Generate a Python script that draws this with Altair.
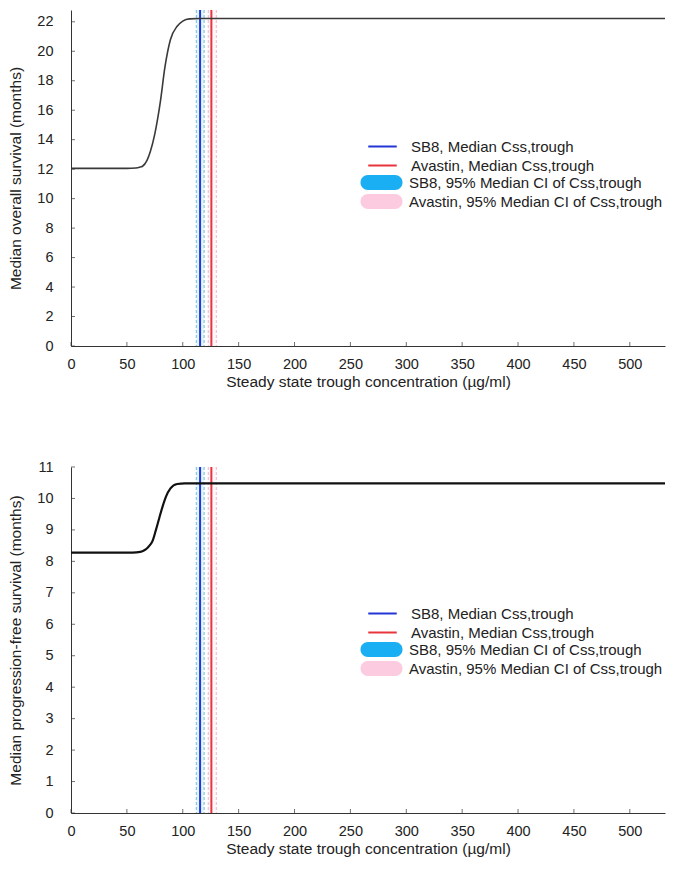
import altair as alt
import pandas as pd

# ---- data ----
os_x = [0, 50, 58, 62, 64, 68, 71, 75, 80, 84, 89, 95, 100, 106, 115, 531.5]
os_y = [12.05, 12.05, 12.08, 12.15, 12.2, 12.6, 13.2, 14.4, 16.6, 18.9, 20.8, 21.7, 22.05, 22.2, 22.22, 22.22]

pfs_x = [0, 55, 62, 66, 69, 73, 76, 79, 82, 85, 89, 95, 102, 531.5]
pfs_y = [8.28, 8.28, 8.3, 8.36, 8.45, 8.65, 9.0, 9.38, 9.75, 10.06, 10.32, 10.46, 10.48, 10.48]

line_names = ["SB8, Median Css,trough", "Avastin, Median Css,trough"]
line_x = [115.5, 125.6]
ci_names = ["SB8, 95% Median CI of Css,trough", "Avastin, 95% Median CI of Css,trough"]
ci_lo = [112.2, 122.9]
ci_hi = [119.1, 130.1]

x_ticks = [0, 50, 100, 150, 200, 250, 300, 350, 400, 450, 500]
os_ticks = [0, 2, 4, 6, 8, 10, 12, 14, 16, 18, 20, 22]
pfs_ticks = [0, 1, 2, 3, 4, 5, 6, 7, 8, 9, 10, 11]

x_title = "Steady state trough concentration (\u00b5g/ml)"

BLUE = "#2336d4"
RED = "#e8343c"
CI_BLUE = "#1aaef2"
CI_PINK = "#fccbdf"
EDGE_BLUE = "#8ccbe8"
EDGE_PINK = "#f6c3d9"
FONT = "Liberation Sans"

W = 594
XMAX = 531.5
line_df = pd.DataFrame({"name": line_names, "x": line_x})
ci_df = pd.DataFrame({"name": ci_names, "lo": ci_lo, "hi": ci_hi})
edge_df = pd.DataFrame({
    "name": [ci_names[0], ci_names[0], ci_names[1], ci_names[1]],
    "x": [ci_lo[0], ci_hi[0], ci_lo[1], ci_hi[1]],
})
xt_df = pd.DataFrame({"t": x_ticks})

PILL = "M-1.8,-1L1.8,-1A1,1 0 0 1 1.8,1L-1.8,1A1,1 0 0 1 -1.8,-1Z"
DASH = "M-1.9,0L1.9,0"
LEG_X = 303


def panel(cx, cy, ytitle, ymax, yticks, h, leg_y, curve_color, curve_width):
    xscale = alt.Scale(domain=[0, XMAX], nice=False, zero=False)
    yscale = alt.Scale(domain=[0, ymax], nice=False)
    xaxis = alt.Axis(values=x_ticks, title=x_title, labelPadding=11, titlePadding=4,
                     labelOverlap=False, labelFlush=False)
    yaxis = alt.Axis(values=yticks, title=ytitle, labelPadding=18, titlePadding=13,
                     labelOverlap=False, labelFlush=False)

    bands = alt.Chart(ci_df).mark_rect(fillOpacity=0.12).encode(
        x=alt.X("lo:Q", scale=xscale, axis=xaxis, title=x_title),
        x2="hi:Q",
        fill=alt.Fill(
            "name:N",
            scale=alt.Scale(domain=ci_names, range=[CI_BLUE, CI_PINK]),
            legend=alt.Legend(
                title=None, orient="none", legendX=LEG_X, legendY=leg_y + 37,
                symbolType=PILL, symbolSize=225, symbolStrokeWidth=0,
                symbolOpacity=1, labelFontSize=15, labelFont=FONT,
                labelColor="#222", labelOffset=20, rowPadding=3,
                padding=0, labelLimit=400,
            ),
        ),
    )
    edges_b = alt.Chart(edge_df).transform_filter(
        alt.datum.name == ci_names[0]
    ).mark_rule(strokeDash=[3, 2], strokeWidth=1.3, color=EDGE_BLUE).encode(
        x=alt.X("x:Q", scale=xscale, axis=xaxis, title=x_title)
    )
    edges_p = alt.Chart(edge_df).transform_filter(
        alt.datum.name == ci_names[1]
    ).mark_rule(strokeDash=[3, 2], strokeWidth=1.3, color=EDGE_PINK).encode(
        x=alt.X("x:Q", scale=xscale, axis=xaxis, title=x_title)
    )
    medians = alt.Chart(line_df).mark_rule(strokeWidth=2).encode(
        x=alt.X("x:Q", scale=xscale, axis=xaxis, title=x_title),
        color=alt.Color(
            "name:N",
            scale=alt.Scale(domain=line_names, range=[BLUE, RED]),
            legend=alt.Legend(
                title=None, orient="none", legendX=LEG_X, legendY=leg_y,
                symbolType=DASH, symbolSize=225, symbolStrokeWidth=2,
                labelFontSize=15, labelFont=FONT, labelColor="#222",
                labelOffset=20, rowPadding=2, padding=0, labelLimit=400,
            ),
        ),
    )
    curve = alt.Chart(pd.DataFrame({"x": cx, "y": cy})).mark_line(
        color=curve_color, strokeWidth=curve_width, interpolate="monotone", clip=True
    ).encode(
        x=alt.X("x:Q", scale=xscale, axis=xaxis, title=x_title),
        y=alt.Y("y:Q", scale=yscale, axis=yaxis, title=ytitle),
    )
    xt = alt.Chart(xt_df).mark_tick(orient="vertical", size=4, thickness=1, color="#333").encode(
        x=alt.X("t:Q", scale=xscale, axis=xaxis, title=x_title),
        y=alt.value(h - 2),
    )
    yt = alt.Chart(pd.DataFrame({"t": yticks})).mark_tick(
        orient="horizontal", size=4, thickness=1, color="#333"
    ).encode(
        y=alt.Y("t:Q", scale=yscale, axis=yaxis, title=ytitle),
        x=alt.value(2),
    )
    return alt.layer(bands, edges_b, edges_p, medians, curve, xt, yt).properties(
        width=W, height=h
    )


top = panel(os_x, os_y, "Median overall survival (months)", 22.8, os_ticks, 336, 128, "#3a3a3a", 1.6)
bottom = panel(pfs_x, pfs_y, "Median progression-free survival (months)", 11, pfs_ticks, 346, 138, "#111111", 2.2)

chart = alt.vconcat(top, bottom, spacing=121, bounds="flush").resolve_scale(
    color="independent", fill="independent", y="independent"
).resolve_legend(color="independent", fill="independent").properties(
    padding={"left": 0, "top": 0, "right": 0, "bottom": 0}
).configure_view(stroke="transparent").configure_axis(
    grid=False, ticks=False, tickSize=0, domainColor="#333", domainWidth=1,
    labelFont=FONT, titleFont=FONT, labelFontSize=14.5, titleFontSize=15.5,
    titleFontWeight="normal", labelColor="#222", titleColor="#222",
    labelOverlap=False,
)

chart.save("out.html", embed_options={"renderer": "svg", "actions": False})
